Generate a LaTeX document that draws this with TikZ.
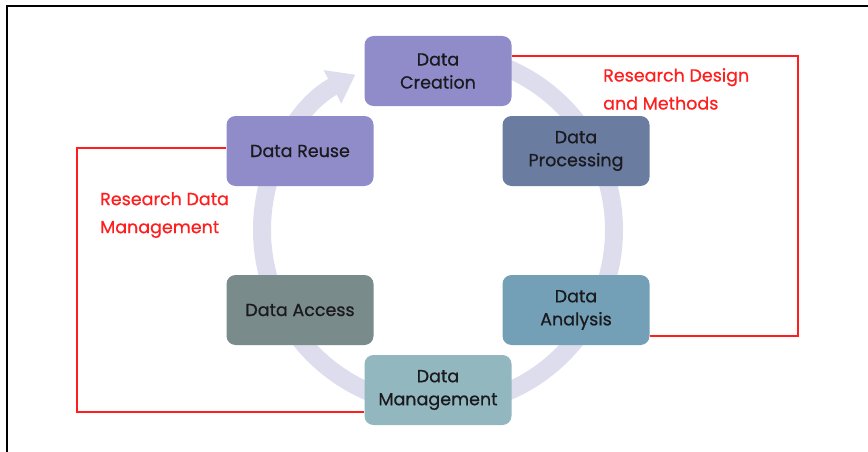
\documentclass[tikz,border=0pt]{standalone}
\usepackage{fontspec}
\setmainfont{Poppins}
\newfontfamily\boxfont[FakeBold=0.6]{Poppins}
\usetikzlibrary{arrows.meta}
\definecolor{ringc}{RGB}{221,221,238}
\definecolor{cpurple}{RGB}{143,140,201}
\definecolor{cslate}{RGB}{106,124,160}
\definecolor{cteal}{RGB}{115,160,182}
\definecolor{cpale}{RGB}{146,183,191}
\definecolor{cgrey}{RGB}{122,139,139}
\definecolor{redc}{RGB}{255,30,30}
\definecolor{txt}{RGB}{25,25,30}
\tikzset{
  stage/.style={rounded corners=9pt, minimum width=147pt, minimum height=70pt,
    inner sep=2pt, align=center, text=txt,
    font=\boxfont\fontsize{17.5}{23}\selectfont},
  redline/.style={draw=redc, line width=2pt},
  redlabel/.style={text=redc, align=left, anchor=north west, inner sep=0pt,
    font=\boxfont\fontsize{17.5}{28}\selectfont},
}
\begin{document}
\begin{tikzpicture}[x=1pt,y=-1pt]
\useasboundingbox (0,0) rectangle (868,452);
% frame
\draw[line width=2pt] (7,452) -- (7,6) -- (868,6);
% ring
\coordinate (ctr) at (438,230);
\draw[ringc, line width=18pt, -{Triangle[width=36pt,length=26pt]}]
  ([shift={(90:176pt)}]ctr) arc[start angle=90, end angle=-242, radius=176pt];
% boxes
\node[stage, fill=cpurple] (cre) at (438,71) {Data\\Creation};
\node[stage, fill=cslate]  (pro) at (576,151) {Data\\Processing};
\node[stage, fill=cteal]   (ana) at (576,310) {Data\\Analysis};
\node[stage, fill=cpale]   (man) at (438,390) {Data\\Management};
\node[stage, fill=cgrey]   (acc) at (300,310) {Data Access};
\node[stage, fill=cpurple] (reu) at (300,151) {Data Reuse};
% red loops
\coordinate (r1) at (798,56);
\coordinate (r2) at (798,336);
\draw[redline] ([yshift=15pt]cre.east) -- (r1) -- (r2) -- ([yshift=-26pt]ana.east);
\coordinate (l1) at (77,148);
\coordinate (l2) at (77,412);
\draw[redline] ([yshift=3pt]reu.west) -- (l1) -- (l2) -- ([yshift=-22pt]man.west);
% labels
\node[redlabel] (lab1) at (603,68) {Research Design\\and Methods};
\node[redlabel] (lab2) at (100,192) {Research Data\\Management};
\end{tikzpicture}
\end{document}
